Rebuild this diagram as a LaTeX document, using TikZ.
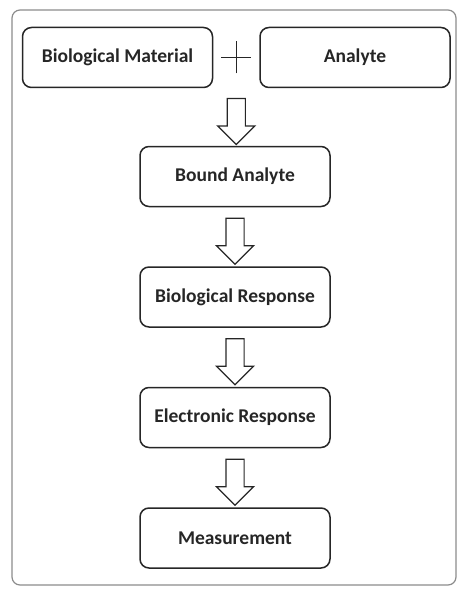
\documentclass[tikz,border=0pt]{standalone}
\usepackage{fontspec}
\setmainfont{Carlito}
\usetikzlibrary{positioning,calc,shapes.arrows}

\begin{document}
\begin{tikzpicture}[
x=1pt, y=-1pt,
box/.style={
	draw=black!85, line width=1.5pt,
	rounded corners=9pt,
	minimum width=190pt, minimum height=60pt,
	inner sep=2pt, text=black!85,
	font=\fontsize{19.5}{23}\selectfont\bfseries
},
flow/.style={
	single arrow, draw=black!85, line width=1.2pt,
	rotate=-90, inner sep=8.5pt,
	minimum height=46pt,
	single arrow head extend=9.5pt
},
node distance=59pt
]
\useasboundingbox (0,0) rectangle (459,591);
\draw[black!45, line width=1.2pt, rounded corners=8pt] (12,10) rectangle (456,585);
\node[box] (bio) at (117.5,57.5) {Biological Material};
\node[box] (analyte) at (355,57.5) {Analyte};
\coordinate (plus) at ($(bio.east)!0.5!(analyte.west)$);
\draw[black!85, line width=1pt] ([xshift=-15pt]plus) -- ([xshift=15pt]plus);
\draw[black!85, line width=1pt] ([yshift=-16pt]plus) -- ([yshift=16pt]plus);
\node[box] (bound) at (235,176.5) {Bound Analyte};
\node[box, below=of bound] (response) {Biological Response};
\node[box, below=of response] (electronic) {Electronic Response};
\node[box, below=of electronic] (measure) {Measurement};
% hollow arrows between the steps
\node[flow] (a1) at (plus |- {$(bio.south)!0.5!(bound.north)$}) {};
\node[flow] (a2) at ($(bound.south)!0.5!(response.north)$) {};
\node[flow] (a3) at ($(response.south)!0.5!(electronic.north)$) {};
\node[flow] (a4) at ($(electronic.south)!0.5!(measure.north)$) {};
\end{tikzpicture}
\end{document}
